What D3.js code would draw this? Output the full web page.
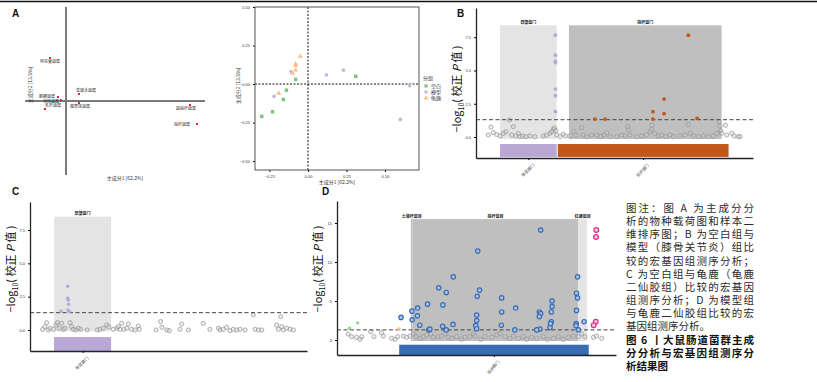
<!DOCTYPE html>
<html lang="zh">
<head>
<meta charset="utf-8">
<title>图6 大鼠肠道菌群主成分分析与宏基因组测序分析</title>
<script src="https://d3js.org/d3.v7.min.js"></script>
<style>
    body { margin:0; background:#fff; }
    svg { display:block; font-family:"Noto Sans CJK SC","Noto Sans",sans-serif; }
    .tick text { font-size:4px; fill:#333; }
</style>
</head>
<body>
<svg id="fig" width="817" height="382"></svg>
<script>
// ---------- data ----------
// A (left): species loadings
const biplotTaxa = ["阿克曼菌属","普雷沃菌属","颤螺菌属","乳杆菌属","瘤胃球菌属","另枝菌属","副拟杆菌属","拟杆菌属"];
const biplotPc1 = [-0.16, 0.13, -0.08, -0.21, 0.13, -0.05, 1.24, 1.31];
const biplotPc2 = [0.43, 0.07, 0.04, -0.08, -0.02, 0.01, -0.04, -0.23];

// A (right): sample PCA
const pcaGroups = ["空白","模型","龟鹿"];
const pcaBlankX = [-0.30,-0.23,-0.16,-0.14,-0.08,0.31];
const pcaBlankY = [-0.21,-0.18,-0.10,-0.04,0.03,0.05];
const pcaModelX = [-0.22,-0.11,0.12,0.23,0.60,0.66];
const pcaModelY = [-0.08,0.08,0.06,0.09,-0.23,-0.01];
const pcaGuiluX = [-0.19,-0.10,-0.08,-0.08,-0.08,-0.05];
const pcaGuiluY = [-0.06,0.07,0.09,0.12,0.13,0.18];
const pcaTicks = [-0.50,-0.25,0,0.25,0.50];

// B: 空白 vs 模型  ([OTU order, -log10 adj P])
const bBandName = ["厚壁菌门","拟杆菌门"];
const bBandStart = [5.4, 31.9];
const bBandEnd = [27.2, 90.6];
const bPhyla = ["厚壁菌门","拟杆菌门"];
const bPhylumStart = [5.4, 27.6];
const bPhylumEnd = [27.2, 93.3];
const bFirmicutes = [[26.7,7.65],[26.7,6.15],[26.7,5.7],[26.7,5.6],[26.7,3.6],[26.7,3.1],[26.7,1.9]];
const bBacteroidetes = [[77.8,7.65],[68.5,2.85],[68.5,1.75],[64.2,1.9],[64.2,1.35],[41.9,1.35],[45.8,1.35],[81.2,1.4]];
const bGray = [[0.9,0.15],[1.9,0.75],[2.8,0.33],[4.1,0.18],[5.4,0.08],[6.7,0.28],[7.7,0.4],[9.0,1.28],
    [9.9,0.15],[10.5,0.78],[11.5,0.08],[12.4,0.28],[13.1,0.03],[14.1,0.08],[15.4,0.03],[16.9,0.08],
    [18.8,0.03],[22.1,0.08],[23.3,0.15],[24.6,0.28],[25.3,0.4],[25.9,0.58],[26.3,0.68],[26.9,0.48],
    [27.2,0.15],[28.5,0.03],[29.7,0.2],[30.6,0.08],[32.3,0.08],[33.8,0.4],[34.6,0.15],[36.8,0.7],
    [37.4,0.15],[38.7,0.03],[40.6,0.15],[42.6,0.15],[44.1,0.03],[45.4,0.15],[46.4,0.33],[47.7,0.03],
    [50.3,0.03],[52.2,0.15],[53.5,0.08],[54.5,0.78],[54.7,0.53],[55.4,0.15],[57.9,0.03],[59.9,0.08],
    [61.8,0.15],[63.1,0.4],[63.6,0.58],[63.8,0.9],[65.0,0.28],[66.3,0.08],[67.6,0.15],[69.2,0.03],
    [70.8,0.15],[72.1,0.03],[74.6,0.08],[76.5,0.15],[77.8,0.95],[78.5,0.28],[79.7,0.08],[81.7,0.03],
    [83.6,0.08],[85.5,0.03],[87.4,0.08],[88.7,0.28],[89.7,1.15],[90.0,0.83],[90.3,0.48],[90.6,0.28],
    [92.1,0.88],[92.6,0.15],[94.5,0.28],[95.4,0.08],[97.1,0.03],[97.7,0.03]];

// C: 空白 vs 龟鹿
const cBandName = ["厚壁菌门"];
const cBandStart = [5.5];
const cBandEnd = [27.7];
const cPhyla = ["厚壁菌门"];
const cPhylumStart = [5.5];
const cPhylumEnd = [27.7];
const cFirmicutes = [[10.8,3.28],[10.8,2.38],[11.0,2.25],[11.1,1.93],[10.9,1.5],[11.4,1.38],[8.2,1.43]];
const cGray = [[1.0,0.05],[1.9,0.25],[2.6,0.55],[3.2,0],[3.9,0.13],[5.2,0.05],[6.2,0.38],[6.8,0.55],
    [7.5,0.13],[8.4,0.5],[9.1,0.05],[9.7,0.13],[11.7,0.55],[12.3,0.25],[13.0,0.05],[14.0,0],
    [14.9,0.13],[15.8,0.05],[18.4,0],[22.3,0],[23.4,0.05],[24.7,0.13],[26.0,0.38],[26.8,0.25],
    [28.6,0.05],[29.9,0.13],[30.5,0.25],[31.2,0.05],[31.8,0.5],[32.7,0.05],[33.8,0.13],[34.4,0.45],
    [35.7,0.05],[37.0,0],[38.3,0.3],[38.7,0.05],[45.2,0],[47.0,0.63],[47.5,0.2],[49.4,0],
    [50.4,-0.05],[54.5,0.05],[55.2,0.45],[57.8,0],[63.6,0.5],[66.2,0.05],[69.5,0.13],[70.1,0],
    [71.4,0.05],[72.7,0.2],[74.0,-0.05],[75.3,0.05],[76.6,0],[77.9,0.05],[79.9,0],[83.1,1.13],
    [83.8,0.05],[85.1,0],[86.4,0],[92.2,0.38],[92.9,0.05],[93.8,1.0],[94.2,0.25],[94.8,0],
    [96.1,0.13],[97.4,0.05],[98.7,0]];

// D: 模型 vs 龟鹿
const dBandName = ["土壤杆菌目","拟杆菌目","红蝽菌目"];
const dBandStart = [26.0, 26.6, 90.4];
const dBandEnd = [26.6, 90.4, 93.8];
const dPhyla = ["拟杆菌门"];
const dPhylumStart = [21.5];
const dPhylumEnd = [94.4];
const dBacteroidetes = [[75.9,14.1],[51.7,11.4],[42.3,8.1],[36.7,6.7],[39.6,6.1],[52.4,6.4],[51.5,5.6],
    [60.9,5.4],[32.4,4.6],[38.3,4.5],[28.6,4.1],[26.4,3.7],[66.3,4.1],[60.9,3.6],[22.2,2.9],[28.5,3.1],
    [26.5,2.6],[29.4,1.9],[42.2,2.0],[38.2,1.75],[39.6,1.3],[32.9,1.3],[33.3,1.4],[51.3,3.2],[51.3,2.5],
    [50.9,1.85],[51.3,1.45],[60.8,1.9],[66.0,1.3],[75.4,3.6],[75.9,3.4],[75.4,3.0],[75.6,1.4],[74.4,1.3],
    [80.3,5.0],[80.3,4.3],[80.0,3.6],[80.0,2.35],[79.7,2.1],[79.5,1.6],[90.1,8.1],[89.7,6.0],[90.1,5.4],
    [89.7,3.8],[89.6,2.1],[89.5,1.85],[90.4,1.3],[92.6,2.35]];
const dProteo = [[97.3,14.1],[97.2,13.2],[97.1,2.35],[96.3,1.9]];
const dGreen = [[2.4,1.5],[5.5,2.2]];
const dOrange = [[21.4,1.4]];
const dGray = [[1.9,0.77],[3.2,0.43],[5.1,0.34],[6.4,0.09],[7.1,0.43],[10.5,1.07],[11.8,0.43],[14.7,0.94],
    [15.4,0.51],[18.6,0.21],[19.9,0.09],[20.9,0.43],[23.1,0.51],[24.4,0.34],[25.6,0.51],[26.9,0.77],
    [27.9,0.43],[29.5,0.21],[30.8,0.43],[32.1,0.64],[33.6,0.77],[34.6,0.34],[36.5,0.43],[37.8,0.51],
    [39.1,0.77],[40.4,0.34],[41.7,0.21],[43.6,0.43],[45.5,0.09],[46.8,0.34],[48.7,0.43],[50.0,0.77],
    [50.6,0.51],[52.8,0.09],[54.5,0.43],[57.1,0.34],[59.0,0.64],[60.3,0.85],[62.2,0.43],[64.1,0.21],
    [65.4,0.51],[67.3,0.21],[69.2,0.43],[70.5,0.09],[72.4,0.34],[74.4,0.21],[76.9,0.43],[78.5,0.09],
    [80.8,0.21],[82.7,0.43],[84.6,0.09],[86.5,0.34],[88.5,0.51],[90.4,0.43],[91.7,0.77],[92.9,0.43],
    [96.2,0.34],[97.4,0.51],[99.4,0.21]];

const captionLines = [
    "图注：图 A 为主成分分",
    "析的物种载荷图和样本二",
    "维排序图；B 为空白组与",
    "模型（膝骨关节炎）组比",
    "较的宏基因组测序分析；",
    "C 为空白组与龟鹿（龟鹿",
    "二仙胶组）比较的宏基因",
    "组测序分析；D 为模型组",
    "与龟鹿二仙胶组比较的宏",
    "基因组测序分析。",
    "图 6 丨大鼠肠道菌群主成",
    "分分析与宏基因组测序分",
    "析结果图"
];

// ---------- drawing ----------
const svg = d3.select("#fig");
svg.append("rect").attr("width", 817).attr("height", 382).attr("fill", "#fff");
svg.append("line").attr("x1", 0).attr("x2", 817).attr("y1", 1.5).attr("y2", 1.5)
    .attr("stroke", "#111").attr("stroke-width", 1.6);

function panelLetter(t, x, y) {
    svg.append("text").attr("x", x).attr("y", y).text(t)
        .style("font-family", "Liberation Sans, Arial, sans-serif")
        .style("font-weight", "bold").style("font-size", "10px").attr("fill", "#111");
}
panelLetter("A", 12, 17);
panelLetter("B", 457, 17);
panelLetter("C", 12, 195);
panelLetter("D", 322, 195);

// --- A left: loading plot
(function () {
    const x = d3.scaleLinear().domain([-0.41, 1.39]).range([25, 205]);
    const y = d3.scaleLinear().domain([-0.74, 0.94]).range([175, 7]);
    const g = svg.append("g");
    g.append("line").attr("x1", x(0)).attr("x2", x(0)).attr("y1", y(0.94)).attr("y2", y(-0.74))
        .attr("stroke", "#7a7a7a").attr("stroke-width", 2);
    g.append("line").attr("x1", x(-0.41)).attr("x2", x(1.39)).attr("y1", y(0)).attr("y2", y(0))
        .attr("stroke", "#7a7a7a").attr("stroke-width", 2);
    const taxa = biplotTaxa.map((n, i) => ({name: n, pc1: biplotPc1[i], pc2: biplotPc2[i]}));
    // label nudges (px) relative to each point
    const nudge = [[-10,4.5],[-3,-2],[-19,1],[0,-2],[-9,5],[-18,2.5],[-14,5],[-23,2]];
    g.selectAll(".lab").data(taxa).join("text")
        .attr("x", (d, i) => x(d.pc1) + nudge[i][0]).attr("y", (d, i) => y(d.pc2) + nudge[i][1])
        .text(d => d.name).style("font-size", "4px").attr("fill", "#333");
    g.selectAll(".pt").data(taxa).join("rect")
        .attr("x", d => x(d.pc1) - 1).attr("y", d => y(d.pc2) - 1)
        .attr("width", 2).attr("height", 2).attr("fill", "#d8283c");
    g.append("text").attr("x", 125).attr("y", 180).attr("text-anchor", "middle")
        .style("font-size", "5px").attr("fill", "#333").text("主成分1 [62.2%]");
    g.append("text").attr("transform", "translate(32,85) rotate(-90)").attr("text-anchor", "middle")
        .style("font-size", "5px").attr("fill", "#333").text("主成分2 [13.5%]");
})();

// --- A right: sample PCA
(function () {
    const x = d3.scaleLinear().domain([-0.344, 0.721]).range([255, 419]);
    const y = d3.scaleLinear().domain([-0.558, 0.5]).range([170, 7]);
    const g = svg.append("g");
    g.append("line").attr("x1", x(0)).attr("x2", x(0)).attr("y1", 7).attr("y2", 170)
        .attr("stroke", "#111").attr("stroke-width", 1).attr("stroke-dasharray", "2,1.5");
    g.append("line").attr("x1", 255).attr("x2", 419).attr("y1", y(0)).attr("y2", y(0))
        .attr("stroke", "#111").attr("stroke-width", 1).attr("stroke-dasharray", "2,1.5");
    g.append("g").attr("transform", "translate(255,0)")
        .call(d3.axisLeft(y).tickValues(pcaTicks).tickSize(2).tickSizeOuter(0).tickFormat(d3.format(".2f")))
        .call(a => a.select(".domain").remove());
    g.append("g").attr("transform", "translate(0,170)")
        .call(d3.axisBottom(x).tickValues(pcaTicks.slice(1)).tickSize(2).tickSizeOuter(0).tickFormat(d3.format(".2f")))
        .call(a => a.select(".domain").remove());
    g.append("rect").attr("x", 255).attr("y", 7).attr("width", 164).attr("height", 163)
        .attr("fill", "none").attr("stroke", "#555").attr("stroke-width", 1);

    const col = ["#7cc47a", "#c6b8de", "#fdbf86"];
    const blank = pcaBlankX.map((v, i) => [v, pcaBlankY[i]]);
    const model = pcaModelX.map((v, i) => [v, pcaModelY[i]]);
    const guilu = pcaGuiluX.map((v, i) => [v, pcaGuiluY[i]]);
    g.selectAll(".b").data(blank).join("path")
        .attr("d", d3.symbol(d3.symbolSquare, 12)).attr("fill", col[0])
        .attr("transform", d => `translate(${x(d[0])},${y(d[1])})`);
    g.selectAll(".m").data(model).join("path")
        .attr("d", d3.symbol(d3.symbolCircle, 11)).attr("fill", col[1])
        .attr("transform", d => `translate(${x(d[0])},${y(d[1])})`);
    g.selectAll(".g").data(guilu).join("path")
        .attr("d", d3.symbol(d3.symbolTriangle, 11)).attr("fill", col[2])
        .attr("transform", d => `translate(${x(d[0])},${y(d[1])})`);

    // legend
    const sym = [d3.symbolSquare, d3.symbolCircle, d3.symbolTriangle];
    g.append("text").attr("x", 423).attr("y", 80).style("font-size", "5px").attr("fill", "#333").text("分组");
    pcaGroups.forEach((n, i) => {
        const yy = 86 + i * 6;
        g.append("path").attr("d", d3.symbol(sym[i], 10)).attr("fill", col[i])
            .attr("transform", `translate(426,${yy})`);
        g.append("text").attr("x", 431).attr("y", yy + 2).style("font-size", "5px").attr("fill", "#333").text(n);
    });
    g.append("text").attr("x", 337).attr("y", 183.5).attr("text-anchor", "middle")
        .style("font-size", "5px").attr("fill", "#333").text("主成分1 [62.2%]");
    g.append("text").attr("transform", "translate(240,86) rotate(-90)").attr("text-anchor", "middle")
        .style("font-size", "5px").attr("fill", "#333").text("主成分2 [13.5%]");
})();

// --- manhattan-style panels B, C, D
function manhattan(o) {
    const g = svg.append("g");
    const x = d3.scaleLinear().domain([0, 100]).range(o.xRange);
    const y = d3.scaleLinear().domain(o.yDomain).range([o.bottom, o.top]);
    const bands = o.bandName.map((n, i) => ({name: n, s: o.bandStart[i], e: o.bandEnd[i], fill: o.bandFill[i]}));
    const phyla = o.phyla.map((n, i) => ({name: n, s: o.phylumStart[i], e: o.phylumEnd[i], fill: o.phylumFill[i]}));

    g.selectAll(".band").data(bands).join("rect")
        .attr("x", d => x(d.s)).attr("width", d => x(d.e) - x(d.s))
        .attr("y", y(o.bandTop)).attr("height", y(o.bandBottom) - y(o.bandTop))
        .attr("fill", d => d.fill);
    g.selectAll(".bandlab").data(bands).join("text")
        .attr("x", d => x((d.s + d.e) / 2)).attr("y", y(o.bandTop) - 1.5)
        .attr("text-anchor", "middle").style("font-size", "4px").style("font-weight", "bold")
        .attr("fill", "#222").text(d => d.name);

    g.selectAll(".gray").data(o.gray).join("circle")
        .attr("cx", d => x(d[0])).attr("cy", d => y(d[1])).attr("r", 2.1)
        .attr("fill", "#cfcfcf").attr("fill-opacity", 0.35)
        .attr("stroke", "#939393").attr("stroke-width", 0.7);

    g.append("line").attr("x1", o.left).attr("x2", o.right).attr("y1", y(1.3)).attr("y2", y(1.3))
        .attr("stroke", "#444").attr("stroke-width", 1).attr("stroke-dasharray", "4,2.5");

    o.series.forEach(s => {
        g.selectAll(null).data(s.data).join("circle")
            .attr("cx", d => x(d[0])).attr("cy", d => y(d[1])).attr("r", s.r)
            .attr("fill", s.fill).attr("stroke", s.stroke || "none").attr("stroke-width", s.sw || 0);
    });

    g.selectAll(".phy").data(phyla).join("rect")
        .attr("x", d => x(d.s)).attr("width", d => x(d.e) - x(d.s))
        .attr("y", y(o.barTop)).attr("height", y(o.barBottom) - y(o.barTop))
        .attr("fill", d => d.fill);

    const ya = g.append("g").attr("transform", `translate(${o.left},0)`)
        .call(d3.axisLeft(y).tickValues(o.ticks).tickSize(2).tickSizeOuter(0).tickFormat(o.fmt));
    ya.select(".domain").attr("stroke", "#222").attr("stroke-width", 1.3);
    const xa = x.copy().domain([x.invert(o.left), x.invert(o.right)]).range([o.left, o.right]);
    const xg = g.append("g").attr("transform", `translate(0,${o.bottom})`)
        .call(d3.axisBottom(xa).tickValues(phyla.map(d => (d.s + d.e) / 2)).tickSize(2).tickSizeOuter(0)
            .tickFormat((d, i) => phyla[i].name));
    xg.select(".domain").attr("stroke", "#222").attr("stroke-width", 1.3);
    xg.selectAll(".tick text").attr("text-anchor", "end").attr("dy", 0)
        .attr("transform", "translate(2,4) rotate(-45)");

    const t = g.append("text").attr("transform", `translate(${o.titleX},${o.titleY}) rotate(-90)`)
        .attr("text-anchor", "middle").style("font-size", "11px").attr("fill", "#111");
    t.append("tspan").text("−log");
    t.append("tspan").text("10").style("font-size", "7px").attr("dy", 2.5);
    t.append("tspan").text("( 校正 ").attr("dy", -2.5);
    t.append("tspan").text("P").style("font-style", "italic");
    t.append("tspan").text(" 值 )");
}

const purple = "#b9a7d6", rust = "#c2571a", blue = "#3a6cb4";

manhattan({
    xRange: [486, 746], yDomain: [-1.58, 9.7], top: 8, bottom: 158, left: 476, right: 753,
    bandName: bBandName, bandStart: bBandStart, bandEnd: bBandEnd, bandFill: ["#e4e4e4", "#bfbfbf"],
    bandTop: 8.4, bandBottom: -0.15,
    phyla: bPhyla, phylumStart: bPhylumStart, phylumEnd: bPhylumEnd, phylumFill: [purple, rust],
    barTop: -0.53, barBottom: -1.5,
    gray: bGray,
    series: [{data: bFirmicutes, r: 1.9, fill: purple}, {data: bBacteroidetes, r: 1.9, fill: rust}],
    ticks: [0, 2.5, 5, 7.5], fmt: d3.format(".1f"), titleX: 461, titleY: 89
});

manhattan({
    xRange: [40, 296.7], yDomain: [-1.575, 9.6], top: 202, bottom: 351, left: 30, right: 307,
    bandName: cBandName, bandStart: cBandStart, bandEnd: cBandEnd, bandFill: ["#e4e4e4"],
    bandTop: 8.5, bandBottom: -0.1,
    phyla: cPhyla, phylumStart: cPhylumStart, phylumEnd: cPhylumEnd, phylumFill: [purple],
    barTop: -0.53, barBottom: -1.575,
    gray: cGray,
    series: [{data: cFirmicutes, r: 1.8, fill: purple}],
    ticks: [0, 2.5, 5, 7.5], fmt: d3.format(".1f"), titleX: 15, titleY: 269
});

manhattan({
    xRange: [343.3, 603.3], yDomain: [-1.92, 17.82], top: 201, bottom: 355, left: 337, right: 616,
    bandName: dBandName, bandStart: dBandStart, bandEnd: dBandEnd, bandFill: ["#bfbfbf", "#bfbfbf", "#e4e4e4"],
    bandTop: 15.5, bandBottom: -0.13,
    phyla: dPhyla, phylumStart: dPhylumStart, phylumEnd: dPhylumEnd, phylumFill: [blue],
    barTop: -0.6, barBottom: -1.92,
    gray: dGray,
    series: [
        {data: dBacteroidetes, r: 2.2, fill: "#a9c0e4", stroke: blue, sw: 1.2},
        {data: dProteo, r: 2.4, fill: "#f7c3dc", stroke: "#e3328a", sw: 1.2},
        {data: dGreen, r: 1.7, fill: "#93d18f"},
        {data: dOrange, r: 1.8, fill: "#f9bf8b"}
    ],
    ticks: [0, 5, 10, 15], fmt: d3.format("d"), titleX: 322, titleY: 269
});

// --- caption
const cap = svg.append("g");
captionLines.forEach((line, i) => {
    const bold = i >= 10;
    const t = cap.append("text").attr("x", 626).attr("y", 212 + i * 13.15).text(line)
        .style("font-size", "10.5px").style("font-weight", bold ? "bold" : "normal")
        .attr("fill", bold ? "#111" : "#2b2b2b");
    if (i !== 9 && i !== 12) t.attr("textLength", 128).attr("lengthAdjust", "spacing");
});
</script>
</body>
</html>
